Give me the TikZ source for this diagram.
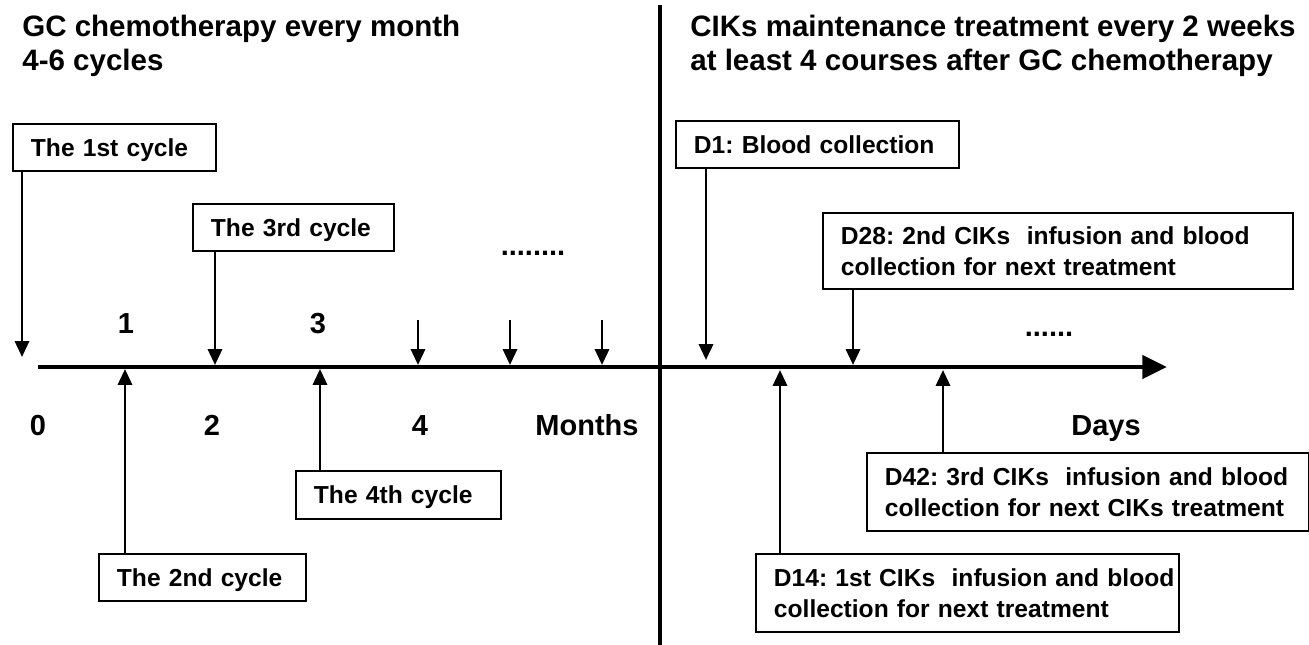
\documentclass[tikz,border=0pt]{standalone}
\usepackage{fontspec}
\setmainfont{Liberation Sans}
\usetikzlibrary{arrows.meta}
\tikzstyle{notebox} = [draw=black, line width=1.1pt, rectangle, anchor=north west,
    inner xsep=3.6mm, inner ysep=0pt, align=left,
    font=\fontsize{14}{17.6}\selectfont\bfseries\frenchspacing]
\tikzstyle{cyclebox} = [notebox, text depth=0pt]
\tikzstyle{headline} = [inner sep=0pt, anchor=north west, align=left,
    font=\fontsize{16.8}{19.5}\selectfont\bfseries]
\tikzstyle{ticklabel} = [inner sep=0pt, anchor=base, font=\fontsize{16.5}{19}\selectfont\bfseries]
\tikzstyle{pointer} = [line width=1.6pt, -{Triangle[length=9pt,width=8pt]}]

\begin{document}
\begin{tikzpicture}[x=0.02cm, y=-0.02cm]
                \useasboundingbox (0,0) rectangle (1309,645);
                \coordinate (tstart) at (38,367);
                \coordinate (tend) at (1167,367);
                \draw[line width=2.8pt, -{Triangle[length=14pt,width=13pt]}] (tstart) -- (tend);
                \coordinate (divtop) at (660,5);
                \coordinate (divbot) at (660,645);
                \draw[line width=2.3pt] (divtop) -- (divbot);

                \node[headline] (gctitle) at (22,15) {GC chemotherapy every month\\4-6 cycles};
                \node[headline] (ciktitle) at (690,15) {CIKs maintenance treatment every 2 weeks\\at least 4 courses after GC chemotherapy};

                \node[cyclebox, text width=33.4mm, minimum height=9.4mm] (cyc1) at (12,123) {The 1st cycle};
                \node[cyclebox, text width=33mm, minimum height=9.4mm] (cyc3) at (192,203) {The 3rd cycle};
                \node[cyclebox, text width=34.2mm, minimum height=9.4mm] (cyc2) at (98,553) {The 2nd cycle};
                \node[cyclebox, text width=33.8mm, minimum height=9.6mm] (cyc4) at (295,470) {The 4th cycle};
                \node[cyclebox, text width=49.4mm, minimum height=9.4mm] (day1) at (675,120) {D1: Blood collection};
                \node[notebox, text width=86.8mm, minimum height=15.2mm] (day28) at (822,212)
                    {D28: 2nd CIKs~ infusion and blood\\collection for next treatment};
                \node[notebox, text width=77.4mm, minimum height=15.6mm] (day14) at (755,553)
                    {\mbox{D14: 1st CIKs~ infusion and blood}\\collection for next treatment};
                \node[notebox, text width=81.2mm, minimum height=15.6mm] (day42) at (866,452)
                    {\mbox{D42: 3rd CIKs~ infusion and blood}\\\mbox{collection for next CIKs treatment}};

                \coordinate (p1) at (22,357);
                \coordinate (p2) at (125,369);
                \coordinate (p3) at (215,365);
                \coordinate (p4) at (320,369);
                \coordinate (q1) at (706,360);
                \coordinate (q14) at (780,370);
                \coordinate (q28) at (853,365);
                \coordinate (q42) at (943,370);
                \draw[pointer] (cyc1.south -| p1) -- (p1);
                \draw[pointer] (cyc2.north -| p2) -- (p2);
                \draw[pointer] (cyc3.south -| p3) -- (p3);
                \draw[pointer] (cyc4.north -| p4) -- (p4);
                \draw[pointer] (day1.south -| q1) -- (q1);
                \draw[pointer] (day14.north -| q14) -- (q14);
                \draw[pointer] (day28.south -| q28) -- (q28);
                \draw[pointer] (day42.north -| q42) -- (q42);
                \foreach \x [count=\i] in {418,510,602} {
                    \coordinate (from\i) at (\x,320);
                    \coordinate (to\i) at (\x,365);
                    \draw[pointer] (from\i) -- (to\i);
                }

                \node[ticklabel] (m1) at (126,334) {1};
                \node[ticklabel] (m3) at (318,334) {3};
                \node[ticklabel] (m0) at (38,435) {0};
                \node[ticklabel] (m2) at (212,435) {2};
                \node[ticklabel] (m4) at (420,435) {4};
                \node[ticklabel] (months) at (587,435) {Months};
                \node[ticklabel] (days) at (1106,435) {Days};
                \node[ticklabel] (gcdots) at (533,256) {........};
                \node[ticklabel] (cikdots) at (1049,337) {......};
            \end{tikzpicture}
\end{document}
